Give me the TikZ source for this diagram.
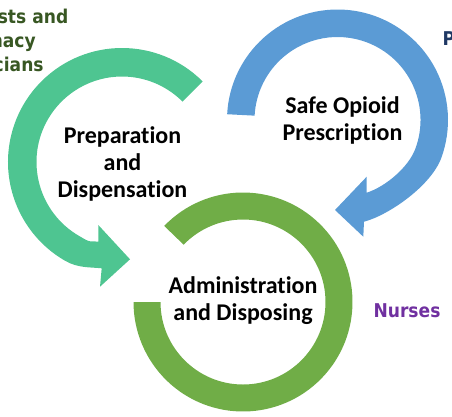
\documentclass[tikz,border=0pt]{standalone}
\usepackage{fontspec}
\setmainfont{Carlito}[Ligatures=NoCommon]
\newfontfamily\rolefont[FakeStretch=0.9]{DejaVu Sans}
\usetikzlibrary{calc}

\definecolor{prepcol}{HTML}{4EC591}
\definecolor{presccol}{HTML}{5B9BD5}
\definecolor{admincol}{HTML}{70AD47}
\definecolor{pharmcol}{HTML}{385723}
\definecolor{prescrcol}{HTML}{1F3864}
\definecolor{nursecol}{HTML}{7030A0}

\begin{document}
\begin{tikzpicture}[x=1pt,y=-1pt,
    stage/.style={font=\fontsize{24}{27}\selectfont\bfseries, align=center, inner sep=0pt},
    role/.style={font=\rolefont\fontsize{19}{24}\selectfont\bfseries, align=center, inner sep=0pt}]
    \useasboundingbox (0,0) rectangle (452,416);
    \clip (0,0) rectangle (452,416);

    \coordinate (cprep) at (122,162);
    \coordinate (cpresc) at (337.5,120);
    \coordinate (cadmin) at (243,302);

    % preparation arrow
    \fill[prepcol] (cprep) ++(-45:114) arc[start angle=-45, end angle=-240, radius=114]
        .. controls +(30:15) and +(186:12) .. (101.7,268.3)
        -- (100,286.7) -- (130,259.3) -- (98.3,225) -- (98.3,241.7)
        .. controls +(186:12) and +(30:15) .. ($(cprep)+(-240:85.5)$)
        arc[start angle=-240, end angle=-45, radius=85.5] -- cycle;

    % prescription arrow
    \fill[presccol] (cpresc) ++(183:110.5) arc[start angle=183, end angle=380, radius=110.5]
        .. controls +(110:30) and +(345.5:25) .. (364,221.7)
        -- (363.3,236.7) -- (335,210) -- (366.7,176.7) -- (366.7,192.7)
        .. controls +(342:20) and +(110:20) .. ($(cpresc)+(380:83)$)
        arc[start angle=380, end angle=183, radius=83] -- cycle;

    % administration ring
    \fill[admincol] (cadmin) ++(224:109.5) arc[start angle=224, end angle=540, radius=109.5]
        -- ($(cadmin)+(540:82.5)$)
        arc[start angle=540, end angle=224, radius=82.5] -- cycle;

    \node[stage] (prep) at (122.5,163.5) {Preparation\\and\\Dispensation};
    \node[stage] (presc) at (342.5,120.7) {Safe Opioid\\Prescription};
    \node[stage] (admin) at (243,300.7) {Administration\\and Disposing};

    \node[role, text=pharmcol] (pharm) at (-12,40.5) {Pharmacists and\\Pharmacy\\Technicians};
    \node[role, text=prescrcol, anchor=base west] (prescr) at (442.5,45) {Prescribers};
    \node[role, text=nursecol, anchor=base] (nurses) at (407,317.3) {Nurses};
\end{tikzpicture}
\end{document}
